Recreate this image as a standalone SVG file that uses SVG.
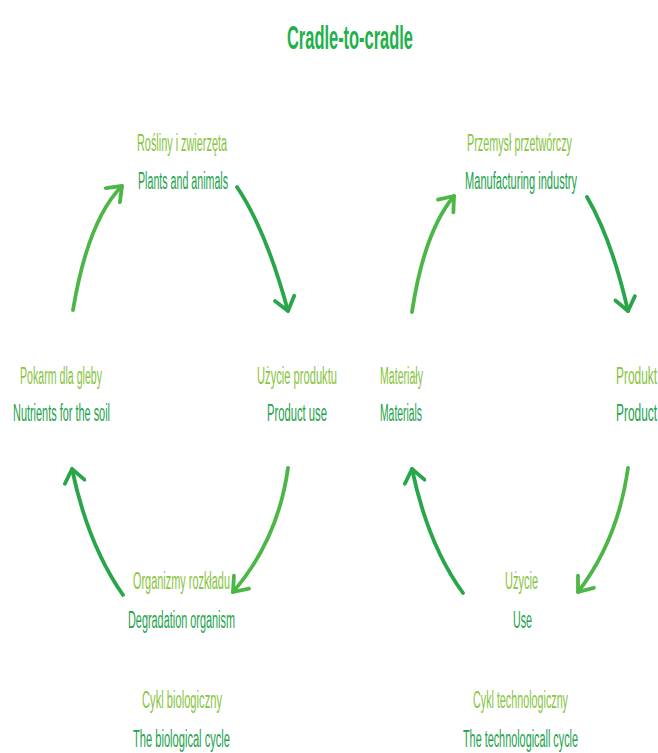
<svg xmlns="http://www.w3.org/2000/svg" width="658" height="753" viewBox="0 0 658 753">
<defs>
<style>
.pl{font-family:"Liberation Sans",Arial,sans-serif;font-size:23px;fill:#86c440;}
.en{font-family:"Liberation Sans",Arial,sans-serif;font-size:23px;fill:#22a24c;}
.title{font-family:"Liberation Sans",Arial,sans-serif;font-size:34px;font-weight:bold;fill:#1fb14b;}
.arc{fill:none;stroke:#2aa64a;stroke-width:3.8;stroke-linecap:round;}
.arc2{fill:none;stroke:#4cb746;stroke-width:3.8;stroke-linecap:round;}
</style>
<marker id="ah" viewBox="-16 -12 20 24" markerWidth="20" markerHeight="24" refX="0" refY="0" orient="auto" markerUnits="userSpaceOnUse">
<path d="M-13,-10 L0,0 L-13,10" fill="none" stroke="#2aa64a" stroke-width="3.8" stroke-linecap="round" stroke-linejoin="round"/>
</marker>
<marker id="ah2" viewBox="-16 -12 20 24" markerWidth="20" markerHeight="24" refX="0" refY="0" orient="auto" markerUnits="userSpaceOnUse">
<path d="M-13,-10 L0,0 L-13,10" fill="none" stroke="#4cb746" stroke-width="3.8" stroke-linecap="round" stroke-linejoin="round"/>
</marker>
</defs>
<rect width="658" height="753" fill="#ffffff"/>
<text id="title" class="title" x="350" y="49" text-anchor="middle" textLength="126" lengthAdjust="spacingAndGlyphs">Cradle-to-cradle</text>

<g id="connectors">
<path class="arc2" d="M73,310 Q88,220 122,186" marker-end="url(#ah2)"/>
<path class="arc" d="M237,187 Q266,230 288,311" marker-end="url(#ah)"/>
<path class="arc2" d="M288,468 Q278,540 233,592" marker-end="url(#ah2)"/>
<path class="arc" d="M123,595 Q88,545 72,469" marker-end="url(#ah)"/>
<path class="arc2" d="M412,312 Q424,232 454,196" marker-end="url(#ah2)"/>
<path class="arc" d="M587,197 Q612,240 628,311" marker-end="url(#ah)"/>
<path class="arc2" d="M628,468 Q618,540 578,592" marker-end="url(#ah2)"/>
<path class="arc" d="M463,593 Q428,545 412,469" marker-end="url(#ah)"/>
</g>

<g id="plants">
<text class="pl" x="182" y="151" text-anchor="middle" textLength="90" lengthAdjust="spacingAndGlyphs">Rośliny i zwierzęta</text>
<text class="en" x="183" y="189" text-anchor="middle" textLength="90" lengthAdjust="spacingAndGlyphs">Plants and animals</text>
</g>
<g id="product-use">
<text class="pl" x="297" y="384" text-anchor="middle" textLength="80" lengthAdjust="spacingAndGlyphs">Użycie produktu</text>
<text class="en" x="297" y="421" text-anchor="middle" textLength="60" lengthAdjust="spacingAndGlyphs">Product use</text>
</g>
<g id="degradation">
<text class="pl" x="181.5" y="589" text-anchor="middle" textLength="97" lengthAdjust="spacingAndGlyphs">Organizmy rozkładu</text>
<text class="en" x="181.5" y="628" text-anchor="middle" textLength="107" lengthAdjust="spacingAndGlyphs">Degradation organism</text>
</g>
<g id="nutrients">
<text class="pl" x="61" y="384" text-anchor="middle" textLength="82" lengthAdjust="spacingAndGlyphs">Pokarm dla gleby</text>
<text class="en" x="61.5" y="421" text-anchor="middle" textLength="97" lengthAdjust="spacingAndGlyphs">Nutrients for the soil</text>
</g>
<g id="manufacturing">
<text class="pl" x="519.5" y="151" text-anchor="middle" textLength="105" lengthAdjust="spacingAndGlyphs">Przemysł przetwórczy</text>
<text class="en" x="521" y="189" text-anchor="middle" textLength="112" lengthAdjust="spacingAndGlyphs">Manufacturing industry</text>
</g>
<g id="product">
<text class="pl" x="616" y="384" textLength="41" lengthAdjust="spacingAndGlyphs">Produkt</text>
<text class="en" x="616" y="421" textLength="41" lengthAdjust="spacingAndGlyphs">Product</text>
</g>
<g id="use">
<text class="pl" x="521.5" y="589" text-anchor="middle" textLength="33" lengthAdjust="spacingAndGlyphs">Użycie</text>
<text class="en" x="522.5" y="628" text-anchor="middle" textLength="19" lengthAdjust="spacingAndGlyphs">Use</text>
</g>
<g id="materials">
<text class="pl" x="380" y="384" textLength="43" lengthAdjust="spacingAndGlyphs">Materiały</text>
<text class="en" x="380" y="421" textLength="42" lengthAdjust="spacingAndGlyphs">Materials</text>
</g>
<g id="bio-cycle">
<text class="pl" x="182" y="708" text-anchor="middle" textLength="80" lengthAdjust="spacingAndGlyphs">Cykl biologiczny</text>
<text class="en" x="181.5" y="747" text-anchor="middle" textLength="97" lengthAdjust="spacingAndGlyphs">The biological cycle</text>
</g>
<g id="tech-cycle">
<text class="pl" x="520.5" y="708" text-anchor="middle" textLength="95" lengthAdjust="spacingAndGlyphs">Cykl technologiczny</text>
<text class="en" x="520.5" y="747" text-anchor="middle" textLength="115" lengthAdjust="spacingAndGlyphs">The technologicall cycle</text>
</g>
</svg>
